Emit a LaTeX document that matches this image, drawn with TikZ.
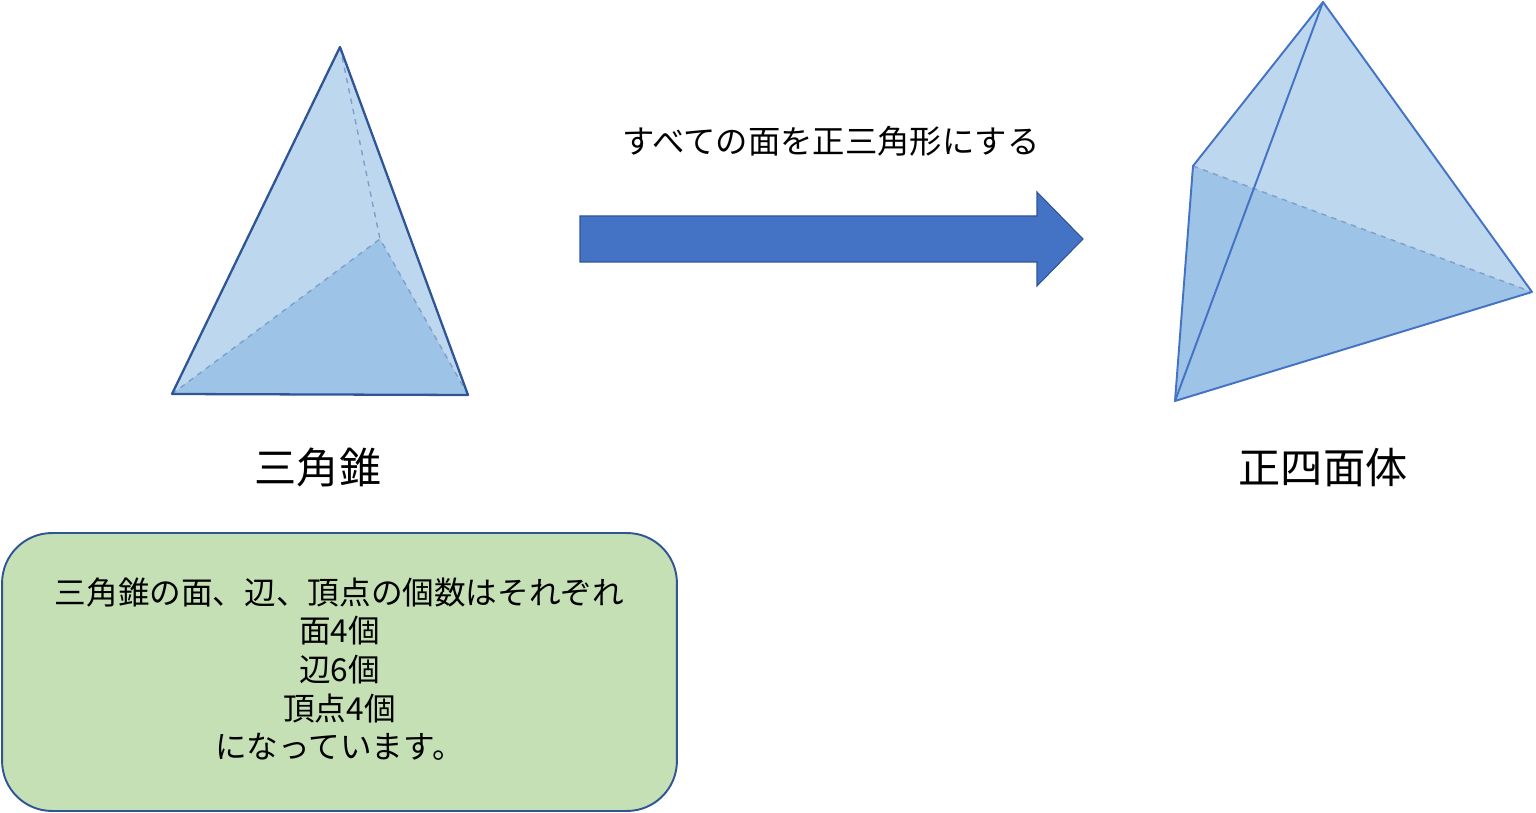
\documentclass[tikz,border=0pt]{standalone}
\usepackage{fontspec}
\setmainfont{Noto Sans CJK JP}
\definecolor{lightface}{HTML}{BDD7EE}
\definecolor{darkface}{HTML}{9DC3E6}
\definecolor{edgedark}{HTML}{2F5597}
\definecolor{edgeblue}{HTML}{4472C4}
\definecolor{hiddenedge}{HTML}{7F9FCB}
\definecolor{boxgreen}{HTML}{C5E0B4}
\tikzset{
  frontedge/.style={line width=1.1pt, line join=round},
  backedge/.style={hiddenedge, line width=0.8pt, dashed},
  title/.style={font=\fontsize{24}{28}\selectfont},
  infobox/.style={draw=edgedark, line width=1.1pt, fill=boxgreen, rounded corners=1cm,
    minimum width=13.5cm, minimum height=5.56cm, align=center,
    font=\fontsize{18}{22}\selectfont},
}
\begin{document}
\begin{tikzpicture}[x=0.02cm, y=-0.02cm]
    \useasboundingbox (0,0) rectangle (1536,813);

    % Triangular pyramid
    \coordinate (PA) at (340,47);
    \coordinate (PB) at (172,394);
    \coordinate (PC) at (468,395);
    \coordinate (PD) at (380,239);
    \fill[lightface] (PA) -- (PB) -- (PC) -- cycle;
    \fill[darkface] (PB) -- (PD) -- (PC) -- cycle;
    \draw[backedge] (PA) -- (PD);
    \draw[backedge] (PB) -- (PD);
    \draw[backedge] (PC) -- (PD);
    \draw[frontedge, edgedark, line width=1.3pt] (PA) -- (PB) -- (PC) -- cycle;

    % Regular tetrahedron
    \coordinate (TA) at (1323,2);
    \coordinate (TL) at (1193,166);
    \coordinate (TB) at (1175,401);
    \coordinate (TR) at (1532,292);
    \fill[lightface] (TA) -- (TL) -- (TB) -- (TR) -- cycle;
    \fill[darkface] (TL) -- (TB) -- (TR) -- cycle;
    \draw[backedge] (TL) -- (TR);
    \draw[frontedge, edgeblue] (TA) -- (TL) -- (TB) -- (TR) -- cycle;
    \draw[frontedge, edgeblue] (TA) -- (TB);

    % Block arrow
    \draw[fill=edgeblue, draw=edgedark, line width=0.6pt]
      (580,216) -- (1037,216) -- (1037,192) -- (1083,239)
      -- (1037,286) -- (1037,262) -- (580,262) -- cycle;
    \node[font=\fontsize{18.4}{22}\selectfont] (change) at (831,141) {すべての面を正三角形にする};

    % Labels
    \node[title] (pyramid) at (318,468) {三角錐};
    \node[title] (tetra) at (1323,468) {正四面体};

    % Summary box
    \node[infobox] (summary) at (339.5,672) {};
    \node[align=center, font=\fontsize{18}{22}\selectfont] (counts) at (339.5,669) {三角錐の面、辺、頂点の個数はそれぞれ\\面4個\\辺6個\\頂点4個\\になっています。};

\end{tikzpicture}
\end{document}
